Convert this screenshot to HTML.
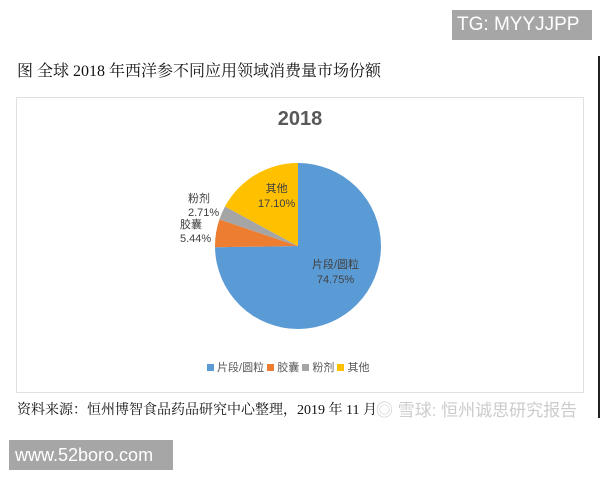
<!DOCTYPE html>
<html><head><meta charset="utf-8"><style>
body{margin:0;width:600px;height:480px;background:#fff;position:relative;overflow:hidden;font-family:"Liberation Serif","Noto Serif CJK SC",serif}
.a{position:absolute;white-space:nowrap}
.s{font-family:"Liberation Sans","Noto Sans CJK SC",sans-serif}
</style></head><body>
<div class="a s" style="left:452px;top:10px;width:140px;height:30px;background:#a6a6a6;color:#fff;font-size:19px;line-height:30px;text-indent:5px">TG: MYYJJPP</div>
<div class="a" style="left:598px;top:56px;width:2px;height:362px;background:#222"></div>
<div class="a" style="left:17px;top:58px;font-size:16px;color:#111">图 全球 2018 年西洋参不同应用领域消费量市场份额</div>
<div class="a" style="left:16px;top:97px;width:566px;height:294px;border:1px solid #e0e0e0"></div>
<div class="a s" style="left:0;width:600px;text-align:center;top:108px;font-size:20px;font-weight:bold;color:#595959">2018</div>
<svg class="a" style="left:0;top:0" width="600" height="480">
<path d="M298,246 L298,163 A83,83 0 1,1 215.0,247.3 Z" fill="#5b9bd5"/>
<path d="M298,246 L215.0,247.3 A83,83 0 0,1 219.4,219.4 Z" fill="#ed7d31"/>
<path d="M298,246 L219.4,219.4 A83,83 0 0,1 225.0,206.5 Z" fill="#a5a5a5"/>
<path d="M298,246 L225.0,206.5 A83,83 0 0,1 298,163 Z" fill="#ffc000"/>
</svg>
<div class="a s" style="left:258px;top:182px;font-size:11px;color:#404040;text-align:center;line-height:15px">其他<br>17.10%</div>
<div class="a s" style="left:312px;top:258px;font-size:11px;color:#404040;text-align:center;line-height:15px">片段/圆粒<br>74.75%</div>
<div class="a s" style="left:188px;top:192px;font-size:11px;color:#404040;line-height:14px">粉剂<br>2.71%</div>
<div class="a s" style="left:180px;top:218px;font-size:11px;color:#404040;line-height:14px">胶囊<br>5.44%</div>
<div class="a s" style="left:207px;top:359px;font-size:11px;color:#595959">
<span style="display:inline-block;width:7px;height:7px;background:#5b9bd5"></span> 片段/圆粒 <span style="display:inline-block;width:7px;height:7px;background:#ed7d31"></span> 胶囊 <span style="display:inline-block;width:7px;height:7px;background:#a5a5a5"></span> 粉剂 <span style="display:inline-block;width:7px;height:7px;background:#ffc000"></span> 其他</div>
<div class="a" style="left:17px;top:399px;font-size:14px;color:#111">资料来源：恒州博智食品药品研究中心整理，2019 年 11 月</div>
<div class="a s" style="left:376px;top:396px;font-size:17px;color:#ccc">◎ 雪球: 恒州诚思研究报告</div>
<div class="a s" style="left:9px;top:440px;width:164px;height:30px;background:#a6a6a6;color:#fff;font-size:18px;line-height:30px;text-indent:6px">www.52boro.com</div>
</body></html>
